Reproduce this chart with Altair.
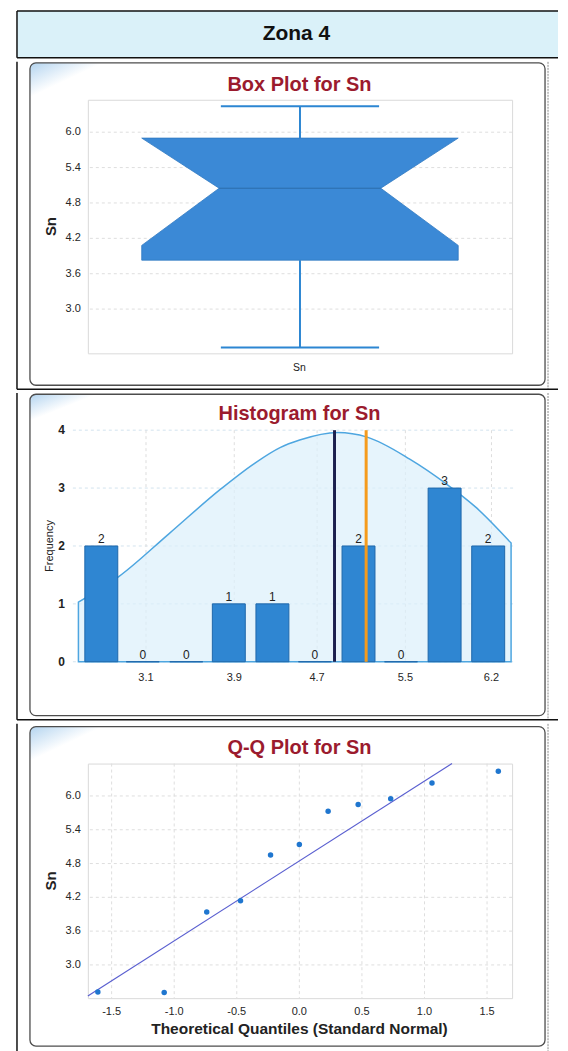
import altair as alt
import pandas as pd

# ---------------- data ----------------
box_stat_names = ["whisker_low", "q1", "notch_low", "median", "q3", "whisker_high"]
box_stat_values = [2.35, 3.83, 4.08, 5.05, 5.90, 6.44]
sn_ticks = [3.0, 3.6, 4.2, 4.8, 5.4, 6.0]
sn_tick_labels = ["3.0", "3.6", "4.2", "4.8", "5.4", "6.0"]

hist_bin_centers = [2.71, 3.09, 3.49, 3.88, 4.28, 4.67, 5.07, 5.46, 5.86, 6.26]
hist_counts = [2, 0, 0, 1, 1, 0, 2, 0, 3, 2]
hist_tick_values = [3.12, 3.93, 4.69, 5.50, 6.29]
hist_tick_labels = ["3.1", "3.9", "4.7", "5.5", "6.2"]
hist_y_ticks = [0, 1, 2, 3, 4]
hist_y_labels = ["0", "1", "2", "3", "4"]
curve_x = [2.50, 2.87, 3.33, 3.81, 4.11, 4.35, 4.53, 4.88, 5.15, 5.54, 5.87, 6.14, 6.47]
curve_y = [1.03, 1.47, 2.21, 2.99, 3.42, 3.70, 3.83, 3.96, 3.88, 3.50, 3.08, 2.68, 2.05]
ref_line_names = ["mean", "median"]
ref_line_values = [4.85, 5.14]

qq_theoretical = [-1.61, -1.08, -0.74, -0.47, -0.23, 0.0, 0.23, 0.47, 0.73, 1.06, 1.59]
qq_sample = [2.52, 2.51, 3.94, 4.14, 4.95, 5.14, 5.73, 5.85, 5.95, 6.23, 6.44]
qq_line_x = [-1.69, 1.22]
qq_line_y = [2.45, 6.575]
qq_x_ticks = [-1.5, -1.0, -0.5, 0.0, 0.5, 1.0, 1.5]
qq_x_labels = ["-1.5", "-1.0", "-0.5", "0.0", "0.5", "1.0", "1.5"]

# ---------------- styling helpers ----------------
FONT = "Liberation Sans"
TITLE_RED = "#9b1b2e"
BOX_BLUE = "#3b89d6"
GRID = "#dedede"
ONE = pd.DataFrame({"k": [0]})
W = 425


def prect(x1, x2, y1, y2, **kw):
    return alt.Chart(ONE).mark_rect(**kw).encode(
        x=alt.value(x1), x2=alt.value(x2), y=alt.value(y1), y2=alt.value(y2))


def prule(x1, x2, y1, y2, **kw):
    return alt.Chart(ONE).mark_rule(**kw).encode(
        x=alt.value(x1), x2=alt.value(x2), y=alt.value(y1), y2=alt.value(y2))


def ptext(x, y, text, **kw):
    return alt.Chart(ONE).mark_text(text=text, **kw).encode(x=alt.value(x), y=alt.value(y))


CORNER_FILL = {
    "gradient": "linear", "x1": 0, "y1": 0, "x2": 1, "y2": 1,
    "stops": [
        {"offset": 0, "color": "#b3d4ef"},
        {"offset": 0.2, "color": "#d3e6f6"},
        {"offset": 0.48, "color": "#ffffff"},
        {"offset": 1, "color": "#ffffff"},
    ],
}
TL, TR, TD = -71, 471, 461
CL, CR = -58, 458


def frame(top, bottom, card_top, card_bottom, corner_w, corner_h, bottom_line=True):
    layers = [
        prect(CL, CL + corner_w, card_top, card_top + corner_h, fill=CORNER_FILL, cornerRadius=6),
        prect(CL, CR, card_top, card_bottom, fill="transparent", stroke="#4d4d4d",
              strokeWidth=1.3, cornerRadius=6),
        prule(TL, TL, top, bottom, color="#111111", strokeWidth=1.5),
        prule(TD, TD, top, bottom, color="#8a8a8a", strokeWidth=1, strokeDash=[2, 1]),
    ]
    if bottom_line:
        layers.append(prule(TL, TR, bottom, bottom, color="#111111", strokeWidth=1.5))
    return layers


def title_text(text, y):
    return ptext(212, y, text, font=FONT, fontSize=20, fontWeight="bold",
                 color=TITLE_RED, align="center", baseline="middle")


def y_grid_and_labels(scale, ticks, labels, label_x, **text_kw):
    df = pd.DataFrame({"v": ticks, "label": labels})
    grid = alt.Chart(df).mark_rule(color=GRID, strokeDash=[3, 3], strokeWidth=1).encode(
        y=alt.Y("v:Q", scale=scale, axis=None))
    lab = alt.Chart(df).mark_text(align="right", baseline="middle", font=FONT,
                                  color="#262626", **text_kw).encode(
        y=alt.Y("v:Q", scale=scale, axis=None), x=alt.value(label_x), text="label:N")
    return grid, lab


def x_grid_and_labels(scale, ticks, labels, label_y, **text_kw):
    df = pd.DataFrame({"v": ticks, "label": labels})
    grid = alt.Chart(df).mark_rule(color=GRID, strokeDash=[3, 3], strokeWidth=1).encode(
        x=alt.X("v:Q", scale=scale, axis=None))
    lab = alt.Chart(df).mark_text(align="center", baseline="middle", font=FONT,
                                  color="#262626", **text_kw).encode(
        x=alt.X("v:Q", scale=scale, axis=None), y=alt.value(label_y), text="label:N")
    return grid, lab


# ---------------- header ----------------
HEADER_H = 47
header = alt.layer(
    prule(TL - 8, TL - 8, 0, 1, color="#ffffff", strokeWidth=0.5),
    prect(TL, TR, 0, HEADER_H, fill="#daf1f9"),
    prule(TL, TR, 0, 0, color="#111111", strokeWidth=1.5),
    prule(TL, TR, HEADER_H, HEADER_H, color="#111111", strokeWidth=1.5),
    prule(TL, TL, 0, HEADER_H, color="#111111", strokeWidth=1.5),
    ptext(209, 23.5, "Zona 4", font=FONT, fontSize=21, fontWeight="bold",
          color="#111111", align="center", baseline="middle"),
).properties(width=W, height=HEADER_H)

# ---------------- box plot ----------------
stats = dict(zip(box_stat_names, box_stat_values))
BW, NW, CW = 0.746, 0.381, 0.373
box_shape = pd.DataFrame({
    "y": [stats["q1"], stats["notch_low"], stats["median"], stats["q3"]],
    "lo": [-BW, -BW, -NW, -BW],
    "hi": [BW, BW, NW, BW],
})
whiskers = pd.DataFrame({"x": [0.0, 0.0],
                         "y1": [stats["q3"], stats["q1"]],
                         "y2": [stats["whisker_high"], stats["whisker_low"]]})
caps = pd.DataFrame({"x1": [-CW, -CW], "x2": [CW, CW],
                     "y": [stats["whisker_high"], stats["whisker_low"]]})
median_df = pd.DataFrame({"x1": [-NW], "x2": [NW], "y": [stats["median"]]})

ysc_box = alt.Scale(domain=[2.25, 6.55], nice=False, zero=False)
xsc_box = alt.Scale(domain=[-1, 1], nice=False, zero=False)

box_grid, box_ylab = y_grid_and_labels(ysc_box, sn_ticks, sn_tick_labels, -7, fontSize=11)
box_body = alt.Chart(box_shape).mark_area(orient="horizontal", fill=BOX_BLUE, stroke="#2f78c2",
                                          strokeWidth=0.8).encode(
    y=alt.Y("y:Q", scale=ysc_box, axis=None),
    x=alt.X("lo:Q", scale=xsc_box, axis=None),
    x2="hi:Q",
)
box_whisk = alt.Chart(whiskers).mark_rule(color="#2c86d2", strokeWidth=2).encode(
    x=alt.X("x:Q", scale=xsc_box, axis=None),
    y=alt.Y("y1:Q", scale=ysc_box, axis=None), y2="y2:Q")
box_caps = alt.Chart(caps).mark_rule(color="#2c86d2", strokeWidth=2).encode(
    x=alt.X("x1:Q", scale=xsc_box, axis=None), x2="x2:Q",
    y=alt.Y("y:Q", scale=ysc_box, axis=None))
box_med = alt.Chart(median_df).mark_rule(color="#2b6bab", strokeWidth=1).encode(
    x=alt.X("x1:Q", scale=xsc_box, axis=None), x2="x2:Q",
    y=alt.Y("y:Q", scale=ysc_box, axis=None))

box_chart = alt.layer(
    *frame(-38, 290, -37, 286, 76, 36),
    box_grid, box_body, box_whisk, box_caps, box_med, box_ylab,
    ptext(-36.5, 127, "Sn", font=FONT, fontSize=15, fontWeight="bold", color="#222",
          angle=270, align="center", baseline="middle"),
    ptext(212, 268.5, "Sn", font=FONT, fontSize=10.5, color="#222",
          align="center", baseline="middle"),
    title_text("Box Plot for Sn", -15),
).properties(width=W, height=254, view=alt.ViewBackground(stroke="#dadada"))

# ---------------- histogram ----------------
hist_df = pd.DataFrame({"center": hist_bin_centers, "count": hist_counts})
curve_df = pd.DataFrame({"x": curve_x, "y": curve_y})
ref_df = pd.DataFrame({"name": ref_line_names, "v": ref_line_values})

xsc_h = alt.Scale(domain=[2.495, 6.47], range=[-15, 429], nice=False, zero=False)
ysc_h = alt.Scale(domain=[0, 4], nice=False)

h_ytick_df = pd.DataFrame({"v": hist_y_ticks, "label": hist_y_labels})
h_ygrid = alt.Chart(h_ytick_df).mark_rule(color="#d3e3ee", strokeDash=[3, 3], strokeWidth=1).encode(
    y=alt.Y("v:Q", scale=ysc_h, axis=None), x=alt.value(-15), x2=alt.value(429))
h_ylab = alt.Chart(h_ytick_df).mark_text(align="right", baseline="middle", font=FONT,
                                         fontSize=12, fontWeight="bold", color="#222").encode(
    y=alt.Y("v:Q", scale=ysc_h, axis=None), x=alt.value(-23), text="label:N")
h_xgrid, h_xlab = x_grid_and_labels(xsc_h, hist_tick_values, hist_tick_labels, 248.5, fontSize=11)

h_area = alt.Chart(curve_df).mark_area(interpolate="monotone", fill="#dcf0fb", fillOpacity=0.7,
                                       stroke="#4ea6e0", strokeWidth=1.5).encode(
    x=alt.X("x:Q", scale=xsc_h, axis=None),
    y=alt.Y("y:Q", scale=ysc_h, axis=None),
)
h_bars = alt.Chart(hist_df).mark_bar(size=33, fill="#2f86d2", stroke="#1f67ab", strokeWidth=1).encode(
    x=alt.X("center:Q", scale=xsc_h, axis=None),
    y=alt.Y("count:Q", scale=ysc_h, axis=None))
h_text = alt.Chart(hist_df).mark_text(dy=-7, font=FONT, fontSize=12, color="#222").encode(
    x=alt.X("center:Q", scale=xsc_h, axis=None),
    y=alt.Y("count:Q", scale=ysc_h, axis=None),
    text="count:Q")
h_rules = alt.Chart(ref_df).mark_rule(strokeWidth=3).encode(
    x=alt.X("v:Q", scale=xsc_h, axis=None),
    color=alt.Color("name:N", scale=alt.Scale(domain=ref_line_names, range=["#1b1f4e", "#f59b1c"]),
                    legend=None))

hist_chart = alt.layer(
    *frame(-37.25, 290, -36, 286, 70, 28),
    h_ygrid, h_xgrid, h_area, h_bars, h_text, h_rules, h_ylab, h_xlab,
    ptext(-37.5, 116, "Frequency", font=FONT, fontSize=11, color="#222",
          angle=270, align="center", baseline="middle"),
    title_text("Histogram for Sn", -16),
).properties(width=W, height=232)

# ---------------- Q-Q plot ----------------
qq_df = pd.DataFrame({"q": qq_theoretical, "sn": qq_sample})
qq_line_df = pd.DataFrame({"q": qq_line_x, "sn": qq_line_y})
xsc_q = alt.Scale(domain=[-1.69, 1.70], nice=False, zero=False)
ysc_q = alt.Scale(domain=[2.41, 6.575], nice=False, zero=False)

q_ygrid, q_ylab = y_grid_and_labels(ysc_q, sn_ticks, sn_tick_labels, -7, fontSize=11)
q_xgrid, q_xlab = x_grid_and_labels(xsc_q, qq_x_ticks, qq_x_labels, 249, fontSize=11)

q_line = alt.Chart(qq_line_df).mark_line(color="#5a5fd0", strokeWidth=1.2).encode(
    x=alt.X("q:Q", scale=xsc_q, axis=None),
    y=alt.Y("sn:Q", scale=ysc_q, axis=None),
)
q_pts = alt.Chart(qq_df).mark_circle(size=30, color="#1f76cf", opacity=1).encode(
    x=alt.X("q:Q", scale=xsc_q, axis=None),
    y=alt.Y("sn:Q", scale=ysc_q, axis=None))

qq_chart = alt.layer(
    *frame(-39.8, 288, -37, 283, 76, 36, bottom_line=False),
    q_ygrid, q_xgrid, q_line, q_pts, q_ylab, q_xlab,
    ptext(-36.5, 117.5, "Sn", font=FONT, fontSize=15, fontWeight="bold", color="#222",
          angle=270, align="center", baseline="middle"),
    ptext(212, 265.5, "Theoretical Quantiles (Standard Normal)", font=FONT, fontSize=15.5,
          fontWeight="bold", color="#222", align="center", baseline="middle"),
    title_text("Q-Q Plot for Sn", -16),
).properties(width=W, height=235, view=alt.ViewBackground(stroke="#dadada"))

chart = alt.vconcat(header, box_chart, hist_chart, qq_chart, spacing=0).properties(
    padding=0, autosize=alt.AutoSizeParams(type="pad")
).configure_view(stroke="transparent")

chart.save("out.html", embed_options={"renderer": "svg", "actions": False})
